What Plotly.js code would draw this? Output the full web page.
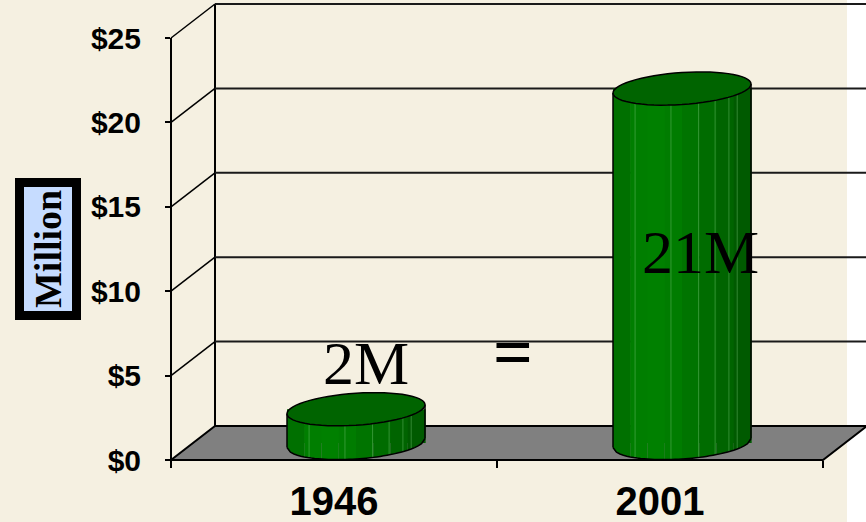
<!DOCTYPE html>
<html><head><meta charset="utf-8">
<script src="https://cdn.plot.ly/plotly-3.0.1.min.js"></script>
<style>html,body{margin:0;padding:0;background:#F5F0E1;} #chart{width:866px;height:522px;}</style>
</head><body><div id="chart"></div>
<script>
// ---- data ----
const categories = ['1946', '2001'];
const values = [2, 21];
const valueLabels = ['2M', '21M'];
const yTickVals = [0, 5, 10, 15, 20, 25];
const yTickText = ['$0', '$5', '$10', '$15', '$20', '$25'];
const middleSign = '=';
const axisTitle = 'Million';

// ---- geometry (pixels) ----
const W = 866, H = 522, L = 171, R = 823, B = 460, T = 3;
const U = 16.88;                 // px per value unit
const plotW = R - L, plotH = B - T;
const yMax = plotH / U;
const DX = 44, DY = 34;          // back wall offset
const catPx = plotW / categories.length;
const midShiftX = (DX / 2) / catPx;
const midBase = (DY / 2) / U;
const cylW = 138 / catPx;
const capB = 16 / U, capK = 4.5 / U;
const stripeColors = ['#007000', '#007e00', '#008000', '#007c00', '#007400', '#006c00', '#006400', '#005a00'];
const nS = stripeColors.length;

function px(x) { return (x - L) / plotW; }
function py(y) { return (B - y) / plotH; }

const shapes = [];
// white strip at right edge
shapes.push({type: 'rect', xref: 'paper', yref: 'paper', x0: px(847), x1: px(880), y0: py(540), y1: py(-20),
  fillcolor: '#FFFFFF', line: {width: 0}, layer: 'below'});
// back wall left edge
shapes.push({type: 'line', xref: 'paper', yref: 'paper', x0: px(L + DX), x1: px(L + DX),
  y0: py(B - DY), y1: py(B - DY - yTickVals[yTickVals.length - 1] * U), line: {color: '#000', width: 2}, layer: 'below'});
// back gridlines + side diagonals
yTickVals.forEach(v => {
  const yb = B - DY - v * U, yf = B - v * U;
  shapes.push({type: 'line', xref: 'paper', yref: 'paper', x0: px(L + DX), x1: px(W + 4), y0: py(yb), y1: py(yb),
    line: {color: '#1a1a1a', width: 2}, layer: 'below'});
  if (v > 0) shapes.push({type: 'line', xref: 'paper', yref: 'paper', x0: px(L), x1: px(L + DX), y0: py(yf), y1: py(yb),
    line: {color: '#000', width: 1.5}, layer: 'below'});
});
// floor
shapes.push({type: 'path', xref: 'paper', yref: 'paper',
  path: `M${px(L)},${py(B)} L${px(L + DX)},${py(B - DY)} L${px(R + DX)},${py(B - DY)} L${px(R)},${py(B)} Z`,
  fillcolor: '#808080', line: {color: '#000', width: 2}, layer: 'below'});
// front axis line
shapes.push({type: 'line', xref: 'paper', yref: 'paper', x0: 0, x1: 0,
  y0: py(B + 7), y1: py(B - yTickVals[yTickVals.length - 1] * U), line: {color: '#000', width: 2}, layer: 'below'});

// cylinder decorations derived from values
const a = cylW / 2;
function arcY(cx, cy, x, sign) {
  let c = (x - cx) / a; c = Math.max(-1, Math.min(1, c));
  return cy + sign * capB * Math.sqrt(Math.max(0, 1 - c * c)) + capK * c;
}
values.forEach((v, i) => {
  const cx = i + midShiftX, base = midBase, top = midBase + v;
  // bottom cap stripes
  for (let s = 0; s < nS; s++) {
    const xa = cx - a + s * cylW / nS, xb = cx - a + (s + 1) * cylW / nS;
    let p = `M${xa},${base + 0.06} L${xb},${base + 0.06}`;
    const m = 8;
    for (let k = 0; k <= m; k++) { const x = xb - (xb - xa) * k / m; p += ` L${x},${arcY(cx, base, x, -1)}`; }
    p += ' Z';
    shapes.push({type: 'path', xref: 'x', yref: 'y', path: p, fillcolor: stripeColors[s], line: {width: 0}, layer: 'above'});
  }
  // thin light lines on the side
  [0.16, 0.42, 0.62, 0.74, 0.84, 0.9].forEach(f => {
    const x = cx - a + f * cylW;
    shapes.push({type: 'line', xref: 'x', yref: 'y', x0: x, x1: x, y0: arcY(cx, base, x, -1), y1: top,
      line: {color: 'rgba(110,190,110,0.45)', width: 1}, layer: 'above'});
  });
  // bottom arc outline
  let arc = '';
  const m = 40;
  for (let k = 0; k <= m; k++) { const x = cx - a + cylW * k / m; arc += (k ? ' L' : 'M') + `${x},${arcY(cx, base, x, -1)}`; }
  shapes.push({type: 'path', xref: 'x', yref: 'y', path: arc, fillcolor: 'rgba(0,0,0,0)', line: {color: '#000', width: 1.5}, layer: 'above'});
  // sides
  shapes.push({type: 'line', xref: 'x', yref: 'y', x0: cx - a, x1: cx - a, y0: base - capK, y1: top - capK, line: {color: '#000', width: 1.5}, layer: 'above'});
  shapes.push({type: 'line', xref: 'x', yref: 'y', x0: cx + a, x1: cx + a, y0: base + capK, y1: top + capK, line: {color: '#000', width: 1.5}, layer: 'above'});
  // top ellipse
  let el = '';
  for (let k = 0; k <= 60; k++) {
    const t = 2 * Math.PI * k / 60;
    const x = cx + a * Math.cos(t), y = top + capB * Math.sin(t) + capK * Math.cos(t);
    el += (k ? ' L' : 'M') + `${x},${y}`;
  }
  el += ' Z';
  shapes.push({type: 'path', xref: 'x', yref: 'y', path: el, fillcolor: '#006400', line: {color: '#000', width: 1.5}, layer: 'above'});
});

// bar stripes (cylinder bodies)
const traces = stripeColors.map((col, s) => ({
  type: 'bar', x: categories, y: values, base: midBase,
  width: cylW / nS + 0.002, offset: -a + midShiftX + s * cylW / nS,
  marker: {color: col, line: {width: 0}}, hoverinfo: 'skip', showlegend: false
}));

const serif = 'Liberation Serif, Times New Roman, serif';
const sans = 'Liberation Sans, Arial, sans-serif';
const annotations = [
  {xref: 'paper', yref: 'paper', x: px(366), y: py(363), text: valueLabels[0], showarrow: false,
    xanchor: 'center', yanchor: 'middle', font: {family: serif, size: 62, color: '#000'}},
  {xref: 'paper', yref: 'paper', x: px(700), y: py(252), text: valueLabels[1], showarrow: false,
    xanchor: 'center', yanchor: 'middle', font: {family: serif, size: 62, color: '#000'}},
  {xref: 'paper', yref: 'paper', x: px(513), y: py(352), text: middleSign, showarrow: false,
    xanchor: 'center', yanchor: 'middle', font: {family: serif, size: 70, color: '#000', weight: 'bold'}},
  {xref: 'paper', yref: 'paper', x: px(48), y: py(249), text: axisTitle, showarrow: false, textangle: -90,
    xanchor: 'center', yanchor: 'middle', bgcolor: '#C6DCFF', bordercolor: '#000', borderwidth: 9, borderpad: 3,
    font: {family: serif, size: 38, color: '#000', weight: 'bold'}}
];

const layout = {
  width: W, height: H,
  margin: {l: L, r: W - R, t: T, b: H - B},
  paper_bgcolor: '#F5F0E1', plot_bgcolor: 'rgba(0,0,0,0)',
  barmode: 'overlay', showlegend: false,
  xaxis: {type: 'category', categoryorder: 'array', categoryarray: categories, range: [-0.5, 1.5],
    tickson: 'boundaries', ticks: 'outside', ticklen: 7, tickwidth: 2, tickcolor: '#000',
    showline: false, showgrid: false, zeroline: false, ticklabelstandoff: 14,
    tickfont: {family: sans, size: 40, color: '#000', weight: 'bold'}, fixedrange: true},
  yaxis: {range: [0, yMax], tickmode: 'array', tickvals: yTickVals, ticktext: yTickText,
    ticks: 'outside', ticklen: 5, tickwidth: 2, tickcolor: '#000',
    showline: false, showgrid: false, zeroline: false, ticklabelstandoff: 18,
    tickfont: {family: sans, size: 30, color: '#000', weight: 'bold'}, fixedrange: true},
  shapes: shapes, annotations: annotations
};

Plotly.newPlot('chart', traces, layout, {displayModeBar: false, staticPlot: true});
</script>
</body></html>
